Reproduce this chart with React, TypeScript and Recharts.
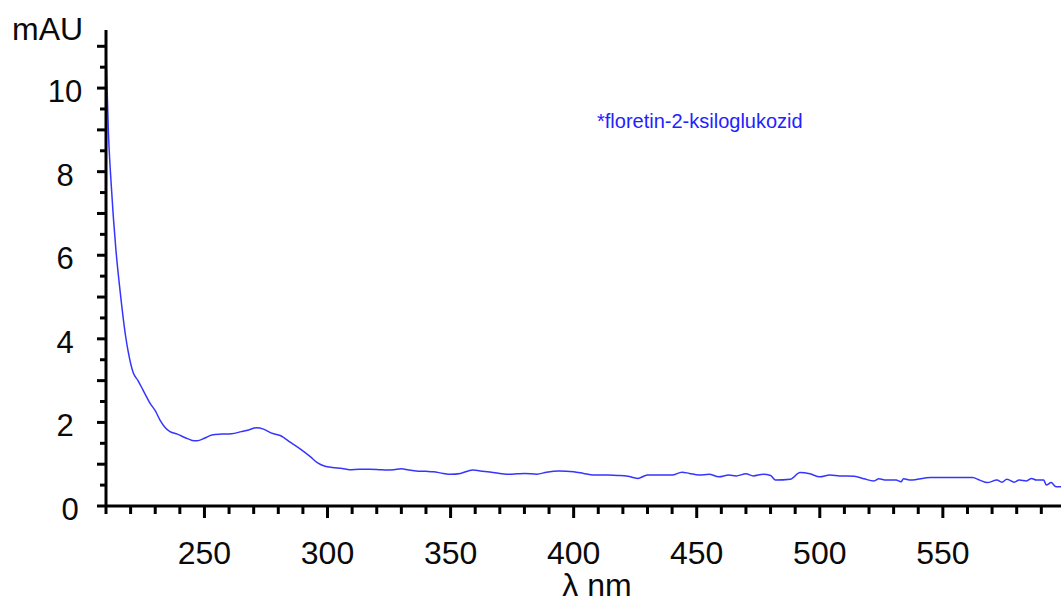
import React from 'react';
import { LineChart, Line, XAxis, YAxis, Label, Customized } from 'recharts';

// UV absorption spectrum (wavelength in nm, absorbance in mAU)
const wavelengths = [
  210, 211, 212, 213, 214, 216, 218, 219, 221, 223, 225, 228, 230, 232, 234, 236, 239, 242, 245, 247,
  250, 253, 257, 261, 265, 268, 271, 274, 277, 281, 285, 289, 293, 296, 299, 302, 306, 309, 313, 317,
  321, 324, 327, 330, 333, 336, 340, 343, 347, 350, 354, 359, 362, 365, 370, 374, 377, 380, 385, 389,
  394, 400, 404, 408, 414, 418, 422, 426, 430, 436, 440, 444, 447, 451, 455, 459, 463, 466, 470, 473,
  477, 480, 482, 488, 492, 496, 500, 504, 508, 514, 518, 522, 524, 527, 531, 533, 534, 537, 545, 552,
  556, 562, 565, 568, 572, 574, 576, 579, 581, 584, 586, 588, 591, 592, 594, 596, 598,
];
const absorbance = [
  10.87, 8.9, 7.8, 6.9, 6.15, 5.0, 4.05, 3.7, 3.2, 3.0, 2.78, 2.45, 2.28, 2.05, 1.88, 1.78, 1.72, 1.64, 1.57, 1.56,
  1.62, 1.7, 1.72, 1.73, 1.78, 1.82, 1.87, 1.84, 1.75, 1.68, 1.52, 1.36, 1.18, 1.03, 0.95, 0.92, 0.9, 0.87, 0.88, 0.88,
  0.87, 0.86, 0.87, 0.89, 0.86, 0.84, 0.83, 0.82, 0.78, 0.76, 0.78, 0.86, 0.84, 0.82, 0.78, 0.76, 0.77, 0.78, 0.76, 0.81,
  0.84, 0.82, 0.78, 0.74, 0.74, 0.73, 0.71, 0.66, 0.74, 0.74, 0.74, 0.81, 0.78, 0.74, 0.76, 0.7, 0.74, 0.72, 0.77, 0.72,
  0.76, 0.73, 0.62, 0.64, 0.8, 0.77, 0.7, 0.74, 0.72, 0.71, 0.65, 0.6, 0.65, 0.62, 0.62, 0.58, 0.65, 0.62, 0.68, 0.68,
  0.68, 0.68, 0.62, 0.56, 0.62, 0.57, 0.64, 0.57, 0.62, 0.6, 0.66, 0.62, 0.62, 0.5, 0.56, 0.46, 0.46,
];

// Axis ticks: minor every 10 nm / 0.5 mAU, labelled every 50 nm / 2 mAU
const xTicks = Array.from({ length: 39 }, (_, i) => 210 + i * 10);
const xLabelValues = [250, 300, 350, 400, 450, 500, 550];
const yTicks = Array.from({ length: 23 }, (_, i) => i * 0.5);
const yLabelValues = [0, 2, 4, 6, 8, 10];

const seriesName = '*floretin-2-ksiloglukozid';
const xAxisTitle = 'λ nm';
const yAxisTitle = 'mAU';

const data = wavelengths.map((nm, i) => ({ nm, value: absorbance[i] }));

const FONT = '"Liberation Sans", Arial, sans-serif';
const BLUE = '#3535ff';
const INK = '#0a0a0a';

const XTick = (props: any) => {
  const { x, y, payload } = props;
  const v = payload.value;
  const major = v % 50 === 0;
  return (
    <g>
      <line x1={x} x2={x} y1={y - 1} y2={y + (major ? 12 : 8)} stroke="#000" strokeWidth={3} />
      {xLabelValues.includes(v) && (
        <text x={x} y={y + 58} textAnchor="middle" fontSize={32} fontFamily={FONT} fill={INK}>
          {v}
        </text>
      )}
    </g>
  );
};

const YTick = (props: any) => {
  const { x, y, payload } = props;
  const v = payload.value;
  const major = Number.isInteger(v);
  return (
    <g>
      <line x1={x - (major ? 9 : 6)} x2={x + 1} y1={y} y2={y} stroke="#000" strokeWidth={3} />
      {yLabelValues.includes(v) && (
        <text
          x={v === 0 ? 70 : 65}
          y={y + 14}
          textAnchor="middle"
          fontSize={31}
          fontFamily={FONT}
          fill={INK}
        >
          {v}
        </text>
      )}
    </g>
  );
};

const SeriesNote = () => (
  <text x={597} y={128} fontSize={20} fontFamily={FONT} fill="#2222ff">
    {seriesName}
  </text>
);

export default function App() {
  return (
    <div style={{ position: 'absolute', left: 0, top: 0, background: '#fff' }}>
      <LineChart width={1061} height={602} data={data} margin={{ top: 30, right: 0, bottom: 0, left: 0 }}>
        <XAxis
          dataKey="nm"
          type="number"
          domain={[210, 598]}
          ticks={xTicks}
          interval={0}
          allowDataOverflow
          height={96}
          tickSize={0}
          tickMargin={0}
          tick={<XTick />}
          axisLine={{ stroke: '#000', strokeWidth: 3 }}
        >
          <Label
            content={(p: any) => (
              <text
                x={p.viewBox.x + 491}
                y={p.viewBox.y + 90}
                textAnchor="middle"
                fontSize={32}
                fontFamily={FONT}
                fill={INK}
              >
                {xAxisTitle}
              </text>
            )}
          />
        </XAxis>
        <YAxis
          type="number"
          domain={[0, 11.39]}
          ticks={yTicks}
          interval={0}
          allowDataOverflow
          width={106}
          tickSize={0}
          tickMargin={0}
          tick={<YTick />}
          axisLine={{ stroke: '#000', strokeWidth: 3 }}
        >
          <Label
            content={() => (
              <text x={12} y={40} fontSize={32} fontFamily={FONT} fill={INK}>
                {yAxisTitle}
              </text>
            )}
          />
        </YAxis>
        <Line
          type="monotone"
          dataKey="value"
          stroke={BLUE}
          strokeWidth={1.5}
          dot={false}
          isAnimationActive={false}
        />
        <Customized component={<SeriesNote />} />
      </LineChart>
    </div>
  );
}
